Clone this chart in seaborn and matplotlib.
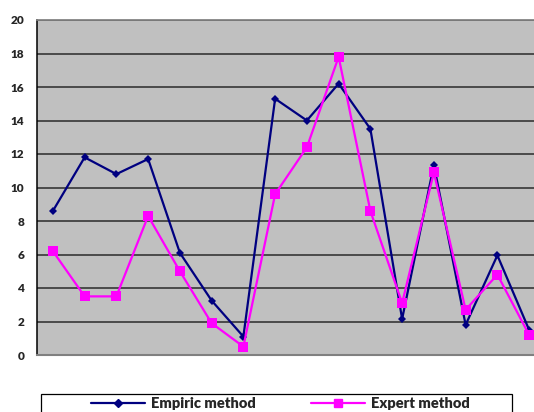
import matplotlib
matplotlib.use("Agg")
import matplotlib.pyplot as plt
from matplotlib.patches import Rectangle
import seaborn as sns
import pandas as pd

points = list(range(1, 17))
empiric = [8.6, 11.8, 10.8, 11.7, 6.1, 3.25, 1.1, 15.3, 14.0, 16.2, 13.5, 2.15, 11.35, 1.8, 5.95, 1.5]
expert = [6.2, 3.5, 3.5, 8.3, 5.0, 1.9, 0.5, 9.6, 12.4, 17.8, 8.6, 3.1, 10.9, 2.7, 4.8, 1.2]
series_names = ["Empiric method", "Expert method"]
yticks = list(range(0, 21, 2))

df = pd.DataFrame({
    "point": points * 2,
    "value": empiric + expert,
    "method": [series_names[0]] * len(points) + [series_names[1]] * len(points),
})

sns.set_theme(style="white")
plt.rcParams["font.family"] = ["Lato", "DejaVu Sans"]

fig = plt.figure(figsize=(5.34, 4.12), dpi=100)
fig.patch.set_facecolor("white")
ax = fig.add_axes([37 / 534, 57 / 412, 508 / 534, 335 / 412])
ax.set_facecolor("#C0C0C0")

sns.lineplot(
    data=df, x="point", y="value", hue="method", style="method",
    palette={series_names[0]: "#000080", series_names[1]: "#FF00FF"},
    markers={series_names[0]: "D", series_names[1]: "s"},
    dashes=False, linewidth=1.6, markeredgewidth=0, ax=ax, legend=False,
)
for line, ms in zip(ax.lines, [4.5, 6.5]):
    line.set_markersize(ms)

ax.set_xlim(0.5, 16.5)
ax.set_ylim(0, 20)
ax.set_yticks(yticks)
ax.set_yticklabels([str(t) for t in yticks], fontsize=8.5, fontweight="heavy")
ax.set_xticks([])
ax.set_xlabel("")
ax.set_ylabel("")
for y in yticks[1:]:
    ax.axhline(y, color="#2a2a2a", linewidth=1.1, zorder=0.5)
ax.tick_params(axis="y", direction="out", length=4, width=1, color="black", pad=5)
ax.spines["left"].set_color("black")
ax.spines["left"].set_linewidth(1.1)
ax.spines["bottom"].set_color("#808080")
ax.spines["bottom"].set_linewidth(1.5)
ax.spines["top"].set_color("#808080")
ax.spines["right"].set_visible(False)

# legend box along the bottom edge
fig.add_artist(Rectangle((41 / 534, -10 / 412), 471 / 534, (412 - 394 + 10) / 412,
                         transform=fig.transFigure, facecolor="white",
                         edgecolor="black", linewidth=0.9))
handles = [
    plt.Line2D([], [], color="#000080", marker="D", markersize=4, linewidth=1.6),
    plt.Line2D([], [], color="#FF00FF", marker="s", markersize=6, linewidth=1.6),
]
leg = fig.legend(
    handles, series_names, loc="upper center",
    bbox_to_anchor=(280 / 534, 1 - 396 / 412),
    ncol=2, frameon=False,
    prop={"weight": "heavy", "size": 10.5}, handlelength=3.7,
    handletextpad=0.4, columnspacing=3.8,
    borderaxespad=0, borderpad=0.1,
)

fig.savefig("out.png", dpi=100, facecolor="white")
